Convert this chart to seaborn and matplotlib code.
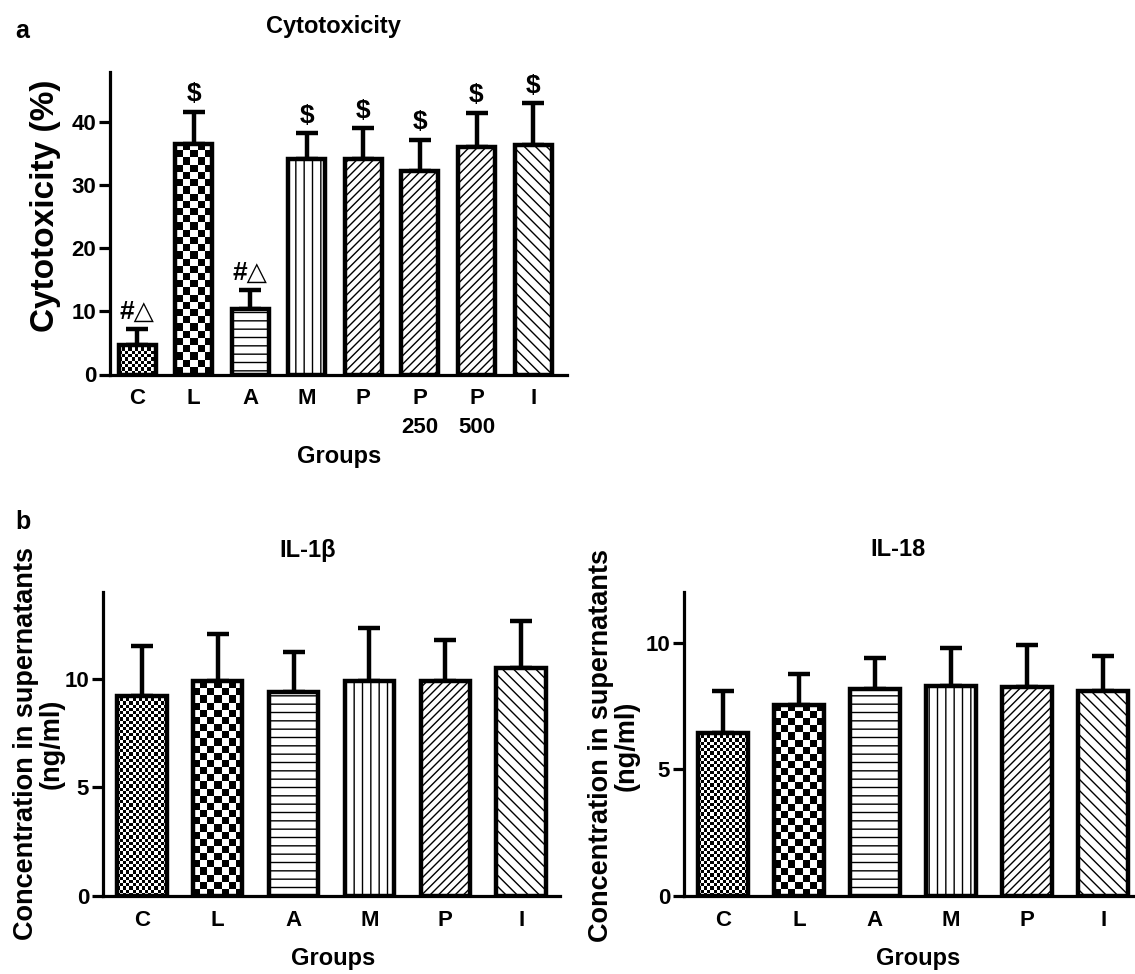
import numpy as np
import pandas as pd
import matplotlib
matplotlib.use('Agg')
import matplotlib.pyplot as plt
import seaborn as sns

# ---------------- data ----------------
cyto_groups = ['C', 'L', 'A', 'M', 'P', 'P\n250', 'P\n500', 'I']
cyto_mean = [4.6, 36.6, 10.4, 34.2, 34.2, 32.3, 36.0, 36.3]
cyto_sd = [2.6, 5.0, 3.0, 4.0, 4.8, 4.9, 5.5, 6.7]
cyto_marks = ['#\u25b3', '$', '#\u25b3', '$', '$', '$', '$', '$']

il_groups = ['C', 'L', 'A', 'M', 'P', 'I']
il1b_mean = [9.22, 9.88, 9.39, 9.88, 9.88, 10.52]
il1b_sd = [2.31, 2.17, 1.85, 2.48, 1.91, 2.14]
il18_mean = [6.45, 7.54, 8.18, 8.29, 8.26, 8.08]
il18_sd = [1.64, 1.21, 1.23, 1.51, 1.65, 1.39]

# fill style per group letter
pattern_of = {'C': 'fine_checker', 'L': 'checker', 'A': '--', 'M': '||',
              'P': '////', 'I': '\\\\\\'}

# ---------------- style ----------------
sns.set_style('ticks')
plt.rcParams['font.family'] = ['Liberation Sans', 'DejaVu Sans']
plt.rcParams['font.weight'] = 'bold'
plt.rcParams['hatch.linewidth'] = 1.0
plt.rcParams['hatch.color'] = 'black'
for k in ['text.color', 'axes.labelcolor', 'xtick.color', 'ytick.color',
          'axes.edgecolor', 'xtick.labelcolor', 'ytick.labelcolor']:
    plt.rcParams[k] = 'black'

W, H = 1135, 974
fig = plt.figure(figsize=(W / 100, H / 100), dpi=100)


def fx(x):
    return x / W


def fy(y):
    return 1 - y / H


def add_axes_px(left, right, top, bottom):
    return fig.add_axes([fx(left), fy(bottom), (right - left) / W, (bottom - top) / H])


def draw_panel(ax, groups, means, sds, ylim, yticks, xlim, marks=None):
    df = pd.DataFrame({'group': groups, 'value': means})
    sns.barplot(data=df, x='group', y='value', order=groups, color='white',
                saturation=1, edgecolor='black', linewidth=3.2, width=0.655,
                errorbar=None, ax=ax, zorder=3)
    n = len(groups)
    ax.errorbar(np.arange(n), means, yerr=[np.zeros(n), sds], fmt='none',
                ecolor='black', elinewidth=3.2, capsize=8, capthick=3.2, zorder=2)
    ax.set_xlim(*xlim)
    ax.set_ylim(*ylim)
    ax.set_yticks(yticks)
    sns.despine(ax=ax)
    for s in ['left', 'bottom']:
        ax.spines[s].set_linewidth(2.3)
        ax.spines[s].set_color('black')
    ax.tick_params(axis='x', length=0, pad=10, labelsize=16, colors='black')
    ax.tick_params(axis='y', length=8, width=2.3, pad=2, labelsize=16,
                   direction='out', colors='black')
    for t in ax.get_xticklabels() + ax.get_yticklabels():
        t.set_fontweight('bold')
    for t in ax.get_xticklabels():
        t.set_linespacing(1.45)
    ax.set_xlabel('')
    ax.set_ylabel('')

    bars = [p for p in ax.patches][:n]
    for g, p in zip(groups, bars):
        key = g.split('\n')[0]
        pat = pattern_of[key]
        if 'checker' in pat:
            cell = 3.2 if pat == 'fine_checker' else 7.2
            x0, w, h = p.get_x(), p.get_width(), p.get_height()
            (px0, py0), (px1, py1) = ax.transData.transform([[x0, 0], [x0 + w, h]])
            nx = max(1, int(round(abs(px1 - px0) / cell)))
            ny = max(1, int(round(abs(py1 - py0) / cell)))
            arr = np.add.outer(np.arange(ny), np.arange(nx)) % 2
            im = ax.imshow(arr, cmap='gray', vmin=0, vmax=1, extent=(x0, x0 + w, 0, h),
                           aspect='auto', interpolation='nearest', origin='lower',
                           zorder=2.5)
            im.set_clip_path(p)
            p.set_facecolor('none')
        else:
            p.set_hatch(pat)
    ax.set_xlim(*xlim)
    ax.set_ylim(*ylim)
    ax.set_aspect('auto')

    if marks is not None:
        for i, m in enumerate(marks):
            ax.annotate(m, xy=(i, means[i] + sds[i]), xytext=(0, 4),
                        textcoords='offset points', ha='center', va='bottom',
                        fontsize=19, fontweight='bold', zorder=5)


# ---------------- panel a ----------------
ax_a = add_axes_px(110, 567, 71.6, 374.5)
draw_panel(ax_a, cyto_groups, cyto_mean, cyto_sd, (0, 48), [0, 10, 20, 30, 40],
           (-0.48, 7.6), marks=cyto_marks)

# ---------------- panel b ----------------
ax_b1 = add_axes_px(103, 560, 592, 896)
draw_panel(ax_b1, il_groups, il1b_mean, il1b_sd, (0, 14), [0, 5, 10], (-0.51, 5.51))

ax_b2 = add_axes_px(684, 1142, 592, 896)
draw_panel(ax_b2, il_groups, il18_mean, il18_sd, (0, 12), [0, 5, 10], (-0.51, 5.51))

# ---------------- texts ----------------
fig.text(fx(22), fy(31), 'a', fontsize=18, fontweight='bold', ha='center', va='center')
fig.text(fx(23), fy(522), 'b', fontsize=18, fontweight='bold', ha='center', va='center')

fig.text(fx(333), fy(27), 'Cytotoxicity', fontsize=17, fontweight='bold', ha='center', va='center')
fig.text(fx(308), fy(551), 'IL-1\u03b2', fontsize=17, fontweight='bold', ha='center', va='center')
fig.text(fx(898), fy(549), 'IL-18', fontsize=17, fontweight='bold', ha='center', va='center')

fig.text(fx(46), fy(206), 'Cytotoxicity (%)', fontsize=24, fontweight='bold',
         rotation=90, ha='center', va='center')
fig.text(fx(39), fy(744), 'Concentration in supernatants\n(ng/ml)', fontsize=19.5,
         fontweight='bold', rotation=90, ha='center', va='center', linespacing=0.98,
         multialignment='center')
fig.text(fx(614), fy(746), 'Concentration in supernatants\n(ng/ml)', fontsize=19.5,
         fontweight='bold', rotation=90, ha='center', va='center', linespacing=0.98,
         multialignment='center')

fig.text(fx(339), fy(456), 'Groups', fontsize=17, fontweight='bold', ha='center', va='center')
fig.text(fx(333), fy(958), 'Groups', fontsize=17, fontweight='bold', ha='center', va='center')
fig.text(fx(918), fy(958), 'Groups', fontsize=17, fontweight='bold', ha='center', va='center')

fig.savefig('out.png', dpi=100, facecolor='white')
